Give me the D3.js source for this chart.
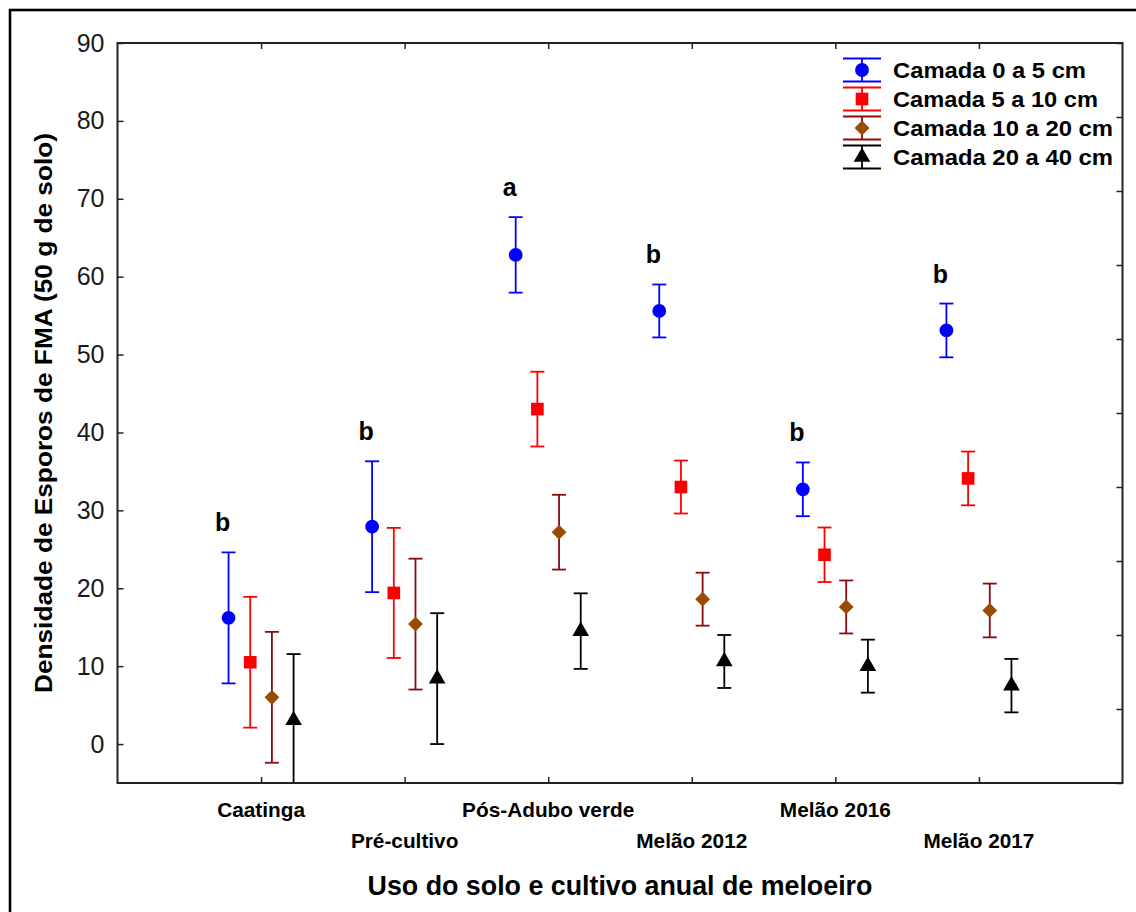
<!DOCTYPE html>
<html><head><meta charset="utf-8">
<script src="https://cdn.jsdelivr.net/npm/d3@7"></script>
<style>body{margin:0;background:#fff}svg{display:block}text{font-family:"Liberation Sans",Arial,sans-serif}</style>
</head><body>
<svg id="chart" width="1136" height="912"></svg>
<script>
const categories = ["Caatinga","Pré-cultivo","Pós-Adubo verde","Melão 2012","Melão 2016","Melão 2017"];
const seriesNames = ["Camada 0 a 5 cm","Camada 5 a 10 cm","Camada 10 a 20 cm","Camada 20 a 40 cm"];
const mean0_5   = [16.2, 27.9, 62.8, 55.6, 32.7, 53.1];
const err0_5    = [8.4, 8.4, 4.85, 3.4, 3.45, 3.45];
const mean5_10  = [10.5, 19.4, 43.0, 33.0, 24.3, 34.1];
const err5_10   = [8.4, 8.35, 4.8, 3.4, 3.5, 3.45];
const mean10_20 = [6.0, 15.4, 27.2, 18.6, 17.6, 17.15];
const err10_20  = [8.4, 8.4, 4.8, 3.4, 3.4, 3.45];
const mean20_40 = [3.05, 8.4, 14.5, 10.6, 10.0, 7.5];
const err20_40  = [8.5, 8.4, 4.85, 3.4, 3.4, 3.43];
const letters   = ["b","b","a","b","b","b"];
const yTicks = [0,10,20,30,40,50,60,70,80,90];
const rightTicks = [-5,4.5,14,23.5,33,42.5,52,61.5,71,80.5,90];

const series = [
  {name:seriesNames[0], mean:mean0_5,   err:err0_5,   line:"#0000ff", fill:"#0000ff", sym:d3.symbolCircle,   size:150},
  {name:seriesNames[1], mean:mean5_10,  err:err5_10,  line:"#ff0000", fill:"#ff0000", sym:d3.symbolSquare,   size:160},
  {name:seriesNames[2], mean:mean10_20, err:err10_20, line:"#8b0a0a", fill:"#994c00", sym:d3.symbolDiamond2, size:140},
  {name:seriesNames[3], mean:mean20_40, err:err20_40, line:"#000000", fill:"#000000", sym:d3.symbolTriangle, size:120}
];
const legendWidths = [193, 205, 220, 220];

const svg = d3.select("#chart");
const L=117.5, R=1122.5, T=43, B=783;
const x = d3.scaleLinear().domain([-1,6]).range([L,R]);
const y = d3.scaleLinear().domain([-5,90]).range([B,T]);
const off = 0.151;

// outer border
svg.append("rect").attr("x",10).attr("y",10).attr("width",1140).attr("height",920)
  .attr("fill","none").attr("stroke","#000").attr("stroke-width",2.6);

svg.append("defs").append("clipPath").attr("id","clip")
  .append("rect").attr("x",L).attr("y",T).attr("width",R-L).attr("height",B-T);

// axes
const axisStyle = g => { g.select(".domain").remove(); g.selectAll("line").attr("stroke","#222").attr("stroke-width",1.5); };
svg.append("g").attr("transform",`translate(${L},0)`)
  .call(d3.axisLeft(y).tickValues(yTicks).tickSizeInner(-6).tickSizeOuter(0).tickPadding(13))
  .call(axisStyle)
  .call(g=>g.selectAll("text").attr("font-size",25).attr("fill","#1a1a1a").attr("font-family","Liberation Sans, Arial, sans-serif"));
svg.append("g").attr("transform",`translate(${R},0)`)
  .call(d3.axisLeft(y).tickValues(rightTicks).tickSizeInner(6).tickSizeOuter(0).tickFormat(""))
  .call(axisStyle);
svg.append("g").attr("transform",`translate(0,${B})`)
  .call(d3.axisBottom(x).tickValues(d3.range(categories.length)).tickSizeInner(-6).tickSizeOuter(0).tickFormat(""))
  .call(axisStyle);
svg.append("g").attr("transform",`translate(0,${T})`)
  .call(d3.axisTop(x).tickValues(d3.range(categories.length)).tickSizeInner(-6).tickSizeOuter(0).tickFormat(""))
  .call(axisStyle);
svg.append("rect").attr("x",L).attr("y",T).attr("width",R-L).attr("height",B-T)
  .attr("fill","none").attr("stroke","#222").attr("stroke-width",2);

// category labels
svg.append("g").selectAll("text").data(categories).join("text")
  .attr("x",(d,i)=>x(i)).attr("y",(d,i)=> i%2===0 ? 817 : 848)
  .attr("text-anchor","middle").attr("font-size",20.8).attr("font-weight","bold").text(d=>d);

// axis titles
svg.append("text").attr("x",620).attr("y",895).attr("text-anchor","middle")
  .attr("font-size",26.8).attr("font-weight","bold").text("Uso do solo e cultivo anual de meloeiro");
svg.append("text").attr("transform",`translate(52,${(T+B)/2}) rotate(-90)`).attr("text-anchor","middle")
  .attr("font-size",24).attr("font-weight","bold")
  .attr("textLength",560).attr("lengthAdjust","spacingAndGlyphs")
  .text("Densidade de Esporos de FMA (50 g de solo)");

// error bars & markers
const plot = svg.append("g").attr("clip-path","url(#clip)");
series.forEach((s,k)=>{
  const px = i => x(i + (k-1.5)*off);
  const g = plot.append("g");
  s.mean.forEach((m,i)=>{
    const lo = y(m - s.err[i]), hi = y(m + s.err[i]), cx = px(i);
    g.append("line").attr("x1",cx).attr("x2",cx).attr("y1",lo).attr("y2",hi).attr("stroke",s.line).attr("stroke-width",1.8);
    g.append("line").attr("x1",cx-7).attr("x2",cx+7).attr("y1",lo).attr("y2",lo).attr("stroke",s.line).attr("stroke-width",1.8);
    g.append("line").attr("x1",cx-7).attr("x2",cx+7).attr("y1",hi).attr("y2",hi).attr("stroke",s.line).attr("stroke-width",1.8);
    g.append("path").attr("d",d3.symbol(s.sym,s.size)()).attr("transform",`translate(${cx},${y(m)})`).attr("fill",s.fill);
  });
});

// significance letters
svg.append("g").selectAll("text").data(letters).join("text")
  .attr("x",(d,i)=>x(i - 1.5*off) - 6)
  .attr("y",(d,i)=>y(mean0_5[i] + err0_5[i]) - 21)
  .attr("text-anchor","middle").attr("font-size",25).attr("font-weight","bold").text(d=>d);

// legend
const lg = svg.append("g");
series.forEach((s,k)=>{
  const cy = 70 + k*29, cx = 862;
  lg.append("line").attr("x1",cx).attr("x2",cx).attr("y1",cy-11.5).attr("y2",cy+11.5).attr("stroke",s.line).attr("stroke-width",1.8);
  lg.append("line").attr("x1",cx-19).attr("x2",cx+19).attr("y1",cy-11.5).attr("y2",cy-11.5).attr("stroke",s.line).attr("stroke-width",1.8);
  lg.append("line").attr("x1",cx-19).attr("x2",cx+19).attr("y1",cy+11.5).attr("y2",cy+11.5).attr("stroke",s.line).attr("stroke-width",1.8);
  lg.append("path").attr("d",d3.symbol(s.sym,s.size)()).attr("transform",`translate(${cx},${cy})`).attr("fill",s.fill);
  lg.append("text").attr("x",893).attr("y",cy+7.5).attr("font-size",22).attr("font-weight","bold")
    .attr("textLength",legendWidths[k]).attr("lengthAdjust","spacingAndGlyphs").text(s.name);
});
</script>
</body></html>
